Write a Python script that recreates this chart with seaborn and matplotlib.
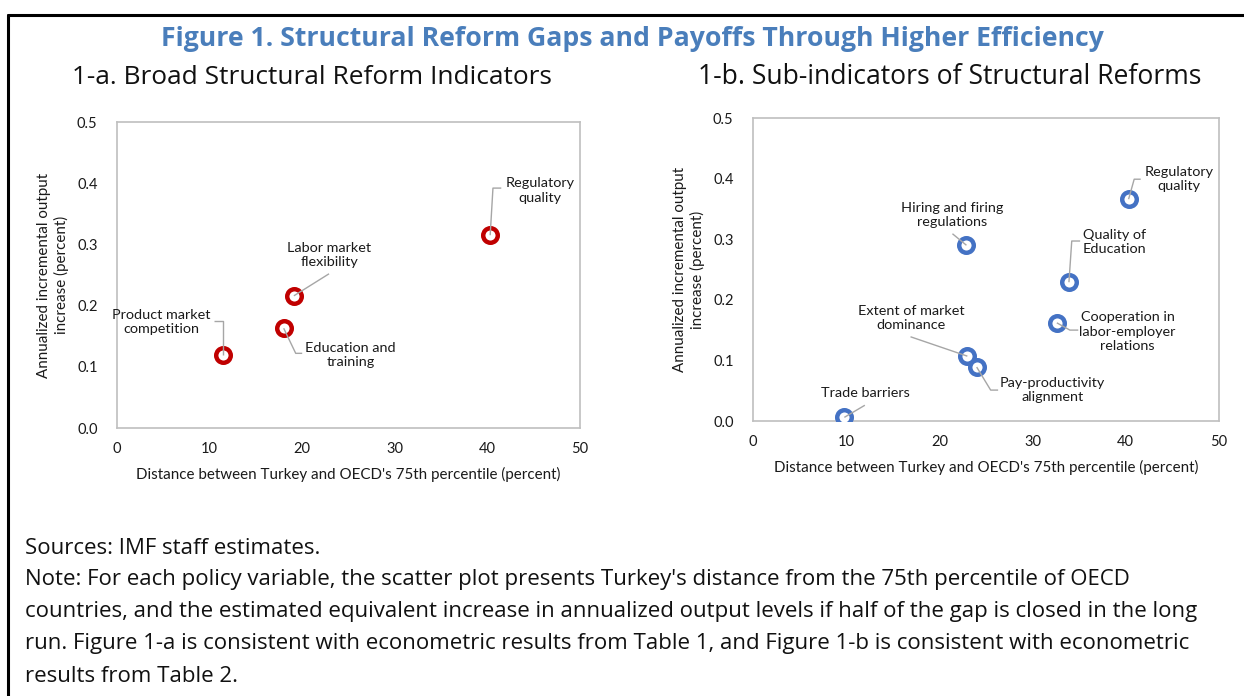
import matplotlib
matplotlib.use("Agg")
import matplotlib.pyplot as plt
import seaborn as sns
import pandas as pd
from matplotlib.lines import Line2D

# ---------------- data ----------------
labels_a = ["Product market\ncompetition", "Education and\ntraining",
            "Labor market\nflexibility", "Regulatory\nquality"]
dist_a = [11.4, 18.0, 19.1, 40.3]
gain_a = [0.119, 0.163, 0.216, 0.315]

labels_b = ["Trade barriers", "Extent of market\ndominance", "Pay-productivity\nalignment",
            "Hiring and firing\nregulations", "Quality of\nEducation",
            "Cooperation in\nlabor-employer\nrelations", "Regulatory\nquality"]
dist_b = [9.8, 23.0, 24.0, 22.9, 33.9, 32.6, 40.3]
gain_b = [0.006, 0.107, 0.089, 0.290, 0.229, 0.162, 0.366]

x_ticks = [0, 10, 20, 30, 40, 50]
y_ticks = [0.0, 0.1, 0.2, 0.3, 0.4, 0.5]

title = "Figure 1. Structural Reform Gaps and Payoffs Through Higher Efficiency"
sub_a = "1-a. Broad Structural Reform Indicators"
sub_b = "1-b. Sub-indicators of Structural Reforms"
xlabel = "Distance between Turkey and OECD's 75th percentile (percent)"
ylabel = "Annualized incremental output\nincrease (percent)"
note_lines = [
    "Sources: IMF staff estimates.",
    "Note: For each policy variable, the scatter plot presents Turkey's distance from the 75th percentile of OECD",
    "countries, and the estimated equivalent increase in annualized output levels if half of the gap is closed in the long",
    "run. Figure 1-a is consistent with econometric results from Table 1, and Figure 1-b is consistent with econometric",
    "results from Table 2.",
]

# ---------------- layout (label placement and leader paths, in data units) ----------------
lay_a = [
    dict(text=(4.75, 0.173), path=[(11.4, 0.175), (10.5, 0.175)]),
    dict(text=(25.2, 0.119), path=[(19.3, 0.122), (20.0, 0.122)]),
    dict(text=(22.9, 0.283), path=[(22.9, 0.252)]),
    dict(text=(45.7, 0.388), path=[(40.6, 0.392), (41.5, 0.392)]),
]
lay_b = [
    dict(text=(12.1, 0.046), path=[(12.0, 0.026)]),
    dict(text=(17.0, 0.170), path=[(16.9, 0.139)]),
    dict(text=(32.1, 0.051), path=[(25.5, 0.051), (26.3, 0.051)]),
    dict(text=(21.4, 0.340), path=[(21.4, 0.309)]),
    dict(text=(38.8, 0.295), path=[(34.2, 0.297), (35.1, 0.297)]),
    dict(text=(40.2, 0.147), path=[(34.0, 0.150), (34.9, 0.150)]),
    dict(text=(45.7, 0.399), path=[(40.9, 0.399), (41.6, 0.399)]),
]

sns.set_theme(style="white")
plt.rcParams["font.family"] = ["Lato", "DejaVu Sans"]

W, H = 1244, 696
fig = plt.figure(figsize=(W / 100, H / 100), dpi=100)

def fx(px):
    return px / W

def fy(py):
    return 1 - py / H

ax_a = fig.add_axes([fx(117), fy(428), fx(580) - fx(117), fy(122) - fy(428)])
ax_b = fig.add_axes([fx(753), fy(421), fx(1219) - fx(753), fy(118) - fy(421)])

def panel(ax, labels, xs, ys, lay, color):
    df = pd.DataFrame({"x": xs, "y": ys, "label": labels})
    sns.scatterplot(data=df, x="x", y="y", ax=ax, marker="o", s=110,
                    facecolor="white", edgecolor=color, linewidth=3.2, zorder=3,
                    legend=False)
    for (_, r), L in zip(df.iterrows(), lay):
        px = [r.x] + [p[0] for p in L["path"]]
        py = [r.y] + [p[1] for p in L["path"]]
        ax.plot(px, py, color="#A6A6A6", lw=1.0, zorder=4, solid_capstyle="butt")
        ax.text(L["text"][0], L["text"][1], r.label, ha="center", va="center",
                fontsize=10.4, color="#1a1a1a", linespacing=1.25, zorder=5)
    ax.set_xlim(0, 50)
    ax.set_ylim(0, 0.5)
    ax.set_xticks(x_ticks)
    ax.set_yticks(y_ticks)
    ax.set_xticklabels([str(t) for t in x_ticks])
    ax.set_yticklabels([f"{t:.1f}" for t in y_ticks])
    ax.tick_params(axis="both", length=0, labelsize=10.5, colors="#1a1a1a")
    ax.tick_params(axis="x", pad=10)
    ax.tick_params(axis="y", pad=14)
    for s in ax.spines.values():
        s.set_color("#BFBFBF")
        s.set_linewidth(1.2)
    ax.set_xlabel(xlabel, fontsize=10.9, color="#1a1a1a", labelpad=8)
    ax.set_ylabel(ylabel, fontsize=10.9, color="#1a1a1a", labelpad=6, linespacing=1.2)

panel(ax_a, labels_a, dist_a, gain_a, lay_a, "#C00000")
panel(ax_b, labels_b, dist_b, gain_b, lay_b, "#4472C4")

fig.text(fx(632), fy(39), title, ha="center", va="center", fontsize=19.2,
         fontweight="bold", color="#4A7EBB", family=["Open Sans", "DejaVu Sans"])
fig.text(fx(312), fy(77), sub_a, ha="center", va="center", fontsize=18.9,
         color="#111111", family=["Open Sans", "DejaVu Sans"])
fig.text(fx(950), fy(77), sub_b, ha="center", va="center", fontsize=19.1,
         color="#111111", family=["Open Sans", "DejaVu Sans"])
for i, line in enumerate(note_lines):
    fig.text(fx(25), fy(548 + 32 * i), line, ha="left", va="center", fontsize=16,
             color="#111111", family=["Open Sans", "DejaVu Sans"])

# frame lines (top and left)
fig.add_artist(Line2D([fx(8), 1], [fy(15), fy(15)], color="black", lw=2.2,
                      transform=fig.transFigure))
fig.add_artist(Line2D([fx(8), fx(8)], [fy(15), 0], color="black", lw=2.2,
                      transform=fig.transFigure))

fig.savefig("out.png", dpi=100, facecolor="white")
